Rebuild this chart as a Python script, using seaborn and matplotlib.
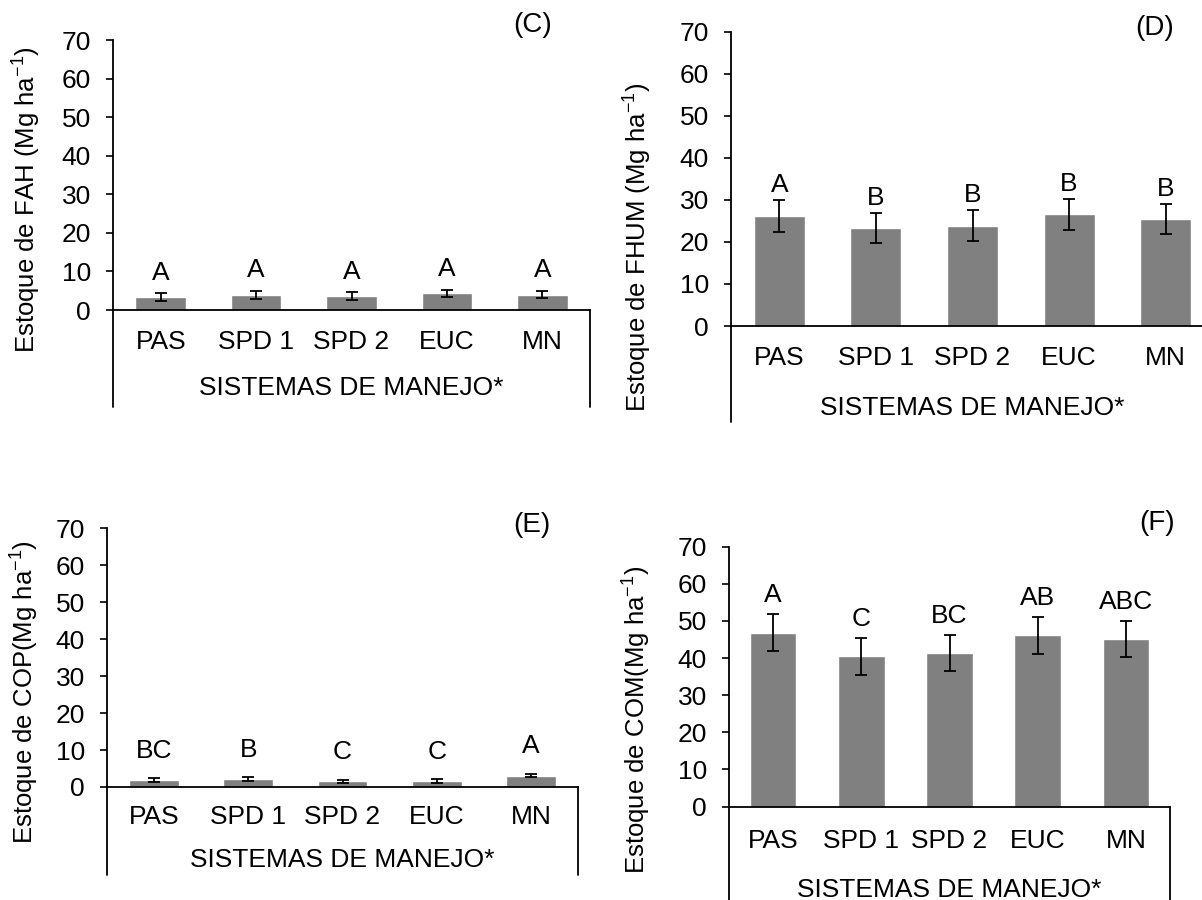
import matplotlib.pyplot as plt
import seaborn as sns

sns.set_theme(style="white")
plt.rcParams['font.family'] = ['Liberation Sans', 'DejaVu Sans']
plt.rcParams['mathtext.default'] = 'regular'
plt.rcParams['text.color'] = 'black'
plt.rcParams['xtick.color'] = 'black'
plt.rcParams['ytick.color'] = 'black'

sistemas = ["PAS", "SPD 1", "SPD 2", "EUC", "MN"]

fah = [3.4, 3.9, 3.6, 4.3, 4.0]
fah_err = [1.0, 1.1, 1.0, 1.0, 1.0]
fah_letras = ["A", "A", "A", "A", "A"]

fhum = [26.2, 23.3, 23.9, 26.6, 25.4]
fhum_err = [3.8, 3.6, 3.7, 3.7, 3.6]
fhum_letras = ["A", "B", "B", "B", "B"]

cop = [1.8, 2.2, 1.5, 1.7, 3.1]
cop_err = [0.5, 0.5, 0.5, 0.5, 0.5]
cop_letras = ["BC", "B", "C", "C", "A"]

com = [46.8, 40.5, 41.3, 46.1, 45.1]
com_err = [5.0, 5.0, 4.9, 5.0, 4.9]
com_letras = ["A", "C", "BC", "AB", "ABC"]

W, H = 1202, 900
fig = plt.figure(figsize=(W / 100, H / 100), dpi=100)


def painel(valores, erros, letras, ylabel, rotulo, left, right, top, bottom,
           box_bottom, sis_y, ylab_x, ylab_y, lab_x, lab_y, off, pad):
    ax = fig.add_axes([left / W, 1 - bottom / H, (right - left) / W, (bottom - top) / H])
    sns.barplot(x=sistemas, y=valores, color="#808080", saturation=1, width=0.53,
                errorbar=None, ax=ax)
    ax.errorbar(range(len(sistemas)), valores, yerr=erros, fmt="none", ecolor="black",
                elinewidth=1.3, capsize=4, capthick=1.3)
    for i, (v, e, l) in enumerate(zip(valores, erros, letras)):
        ax.annotate(l, xy=(i, v + e), xytext=(0, off), textcoords="offset points",
                    ha="center", va="bottom", fontsize=19)
    ax.set_xlim(-0.5, 4.5)
    ax.set_ylim(0, 70)
    ax.set_yticks(range(0, 80, 10))
    ax.set_xlabel("")
    ax.set_ylabel("")
    for s in ["top", "right"]:
        ax.spines[s].set_visible(False)
    for s in ["left", "bottom"]:
        ax.spines[s].set_color("black")
        ax.spines[s].set_linewidth(1.3)
    ax.tick_params(axis="y", length=5, width=1.2, direction="out", labelsize=19,
                   pad=11, left=True)
    ax.tick_params(axis="x", length=0, labelsize=19, pad=pad)
    ext = -(box_bottom - bottom) / (bottom - top)
    for x in (0, 1):
        ax.plot([x, x], [0, ext], transform=ax.transAxes, clip_on=False,
                color="black", lw=1.3)
    fig.text((left + right) / 2 / W, 1 - sis_y / H, "SISTEMAS DE MANEJO*",
             ha="center", va="center", fontsize=19)
    fig.text(ylab_x / W, 1 - ylab_y / H, ylabel, rotation=90,
             ha="center", va="center", fontsize=18.5)
    fig.text(lab_x / W, 1 - lab_y / H, rotulo, ha="center", va="center", fontsize=20)
    return ax


painel(fah, fah_err, fah_letras, "Estoque de FAH (Mg ha$^{-1}$)", "(C)",
       113, 590, 40, 310, 407, 388, 27, 200, 533, 25, 6, 14.5)
painel(fhum, fhum_err, fhum_letras, "Estoque de FHUM (Mg ha$^{-1}$)", "(D)",
       731, 1214, 31.7, 326, 422, 408, 638, 247, 1155, 28, 2, 14.5)
painel(cop, cop_err, cop_letras, "Estoque de COP(Mg ha$^{-1}$)", "(E)",
       107, 578, 528.3, 787, 875, 860, 25, 692, 532, 525, 11, 13)
painel(com, com_err, com_letras, "Estoque de COM(Mg ha$^{-1}$)", "(F)",
       729, 1170, 546.7, 806.5, 910, 890, 636.5, 720, 1157, 523, 5, 16.5)

fig.savefig("out.png", dpi=100)
